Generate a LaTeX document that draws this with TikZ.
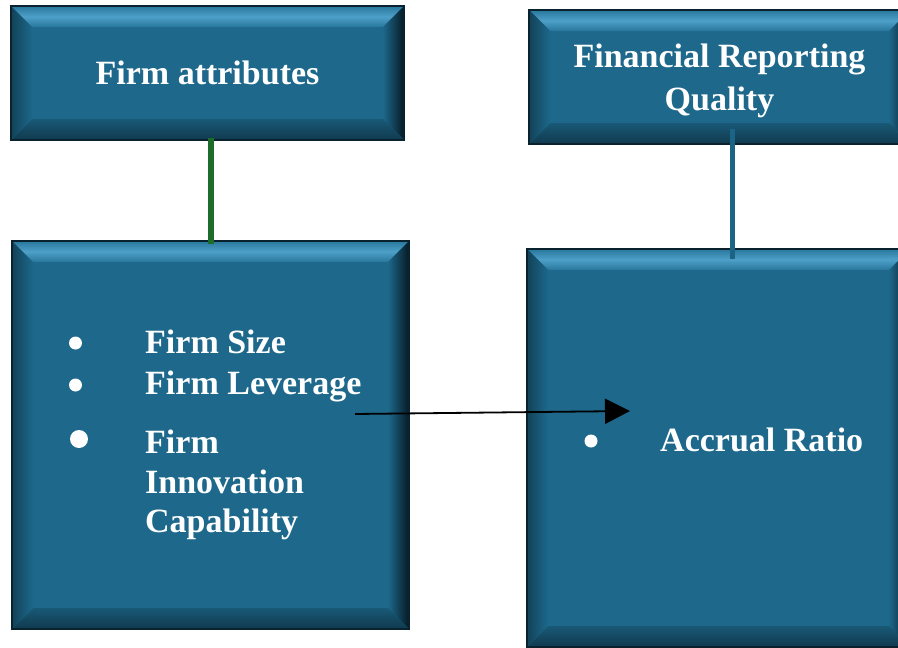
\documentclass[tikz,border=0pt]{standalone}
\usepackage{fontspec}
\setmainfont{Liberation Serif}
\usetikzlibrary{calc,arrows.meta}

\definecolor{boxfill}{RGB}{29,104,139}
\definecolor{boxedge}{RGB}{10,34,46}
\definecolor{bevlight}{RGB}{78,160,200}
\definecolor{bevmid}{RGB}{40,118,156}
\definecolor{bevdark}{RGB}{6,26,36}
\definecolor{bevleft}{RGB}{18,66,88}
\definecolor{bevlow}{RGB}{16,58,78}
\definecolor{attrgreen}{RGB}{30,108,42}
\definecolor{frqblue}{RGB}{27,100,134}

\newcommand{\bev}{21pt}

\begin{document}
\begin{tikzpicture}[x=1pt, y=-1pt,
  bevelbox/.style={rectangle, draw=boxedge, line width=1.5pt, fill=boxfill,
    text=white, align=center, inner sep=0pt,
    font=\fontsize{34}{43}\selectfont\bfseries,
    path picture={
      \coordinate (o1) at (path picture bounding box.south west);
      \coordinate (o3) at (path picture bounding box.north east);
      \coordinate (o2) at (o1 |- o3);
      \coordinate (o4) at (o3 |- o1);
      \coordinate (i1) at ($(o1)+(\bev,\bev)$);
      \coordinate (i2) at ($(o2)+(\bev,-\bev)$);
      \coordinate (i3) at ($(o3)+(-\bev,-\bev)$);
      \coordinate (i4) at ($(o4)+(-\bev,\bev)$);
      \shade[top color=bevmid, bottom color=bevmid, middle color=bevlight]
        (o2) -- (o3) -- (i3) -- (i2) -- cycle;
      \shade[left color=boxfill, right color=bevdark]
        (o3) -- (o4) -- (i4) -- (i3) -- cycle;
      \shade[top color=boxfill!85!black, bottom color=bevlow]
        (o4) -- (o1) -- (i1) -- (i4) -- cycle;
      \shade[left color=bevleft, right color=boxfill]
        (o1) -- (o2) -- (i2) -- (i1) -- cycle;
    }},
  item/.style={anchor=base west, text=white, inner sep=0pt,
    font=\fontsize{34}{40}\selectfont\bfseries},
  dot/.style={circle, fill=white, inner sep=0pt, minimum size=#1},
  dot/.default=13pt]

\useasboundingbox (0,0) rectangle (898,648);

% boxes
\node[bevelbox, minimum width=393pt, minimum height=134pt] (attr) at (207.5,73) {Firm attributes};
\node[bevelbox, minimum width=381pt, minimum height=134pt, text depth=0pt] (frq) at (719.5,77) {Financial Reporting\\Quality};
\node[bevelbox, minimum width=397pt, minimum height=388pt] (list) at (210.5,435) {};
\node[bevelbox, minimum width=383pt, minimum height=398pt] (ratio) at (718.5,448) {};

% firm attributes
\node[dot] (b1) at (75.5,343) {};
\node[dot] (b2) at (75.5,385) {};
\node[dot=18pt] (b3) at (79,439) {};
\node[item] (size) at (145,353) {Firm Size};
\node[item] (lev) at (145,394) {Firm Leverage};
\node[item] (inn1) at (145,453) {Firm};
\node[item] (inn2) at (145,493) {Innovation};
\node[item] (inn3) at (145,532) {Capability};

% reporting quality
\node[dot] (b4) at (591,441) {};
\node[item] (accr) at (660,451) {Accrual Ratio};

% links
\draw[attrgreen, line width=6pt, shorten <=-3pt, shorten >=-4pt]
  (attr.south -| list.north) -- (list.north);
\draw[frqblue, line width=5pt, shorten <=-16pt, shorten >=-11pt]
  ([xshift=12.5pt]frq.south) -- ([xshift=13.5pt]ratio.north);

\coordinate (arrS) at (355,414);
\coordinate (arrE) at (630,411);
\draw[-{Triangle[length=25pt,width=25pt]}, line width=1.8pt] (arrS) -- (arrE);
\end{tikzpicture}
\end{document}
